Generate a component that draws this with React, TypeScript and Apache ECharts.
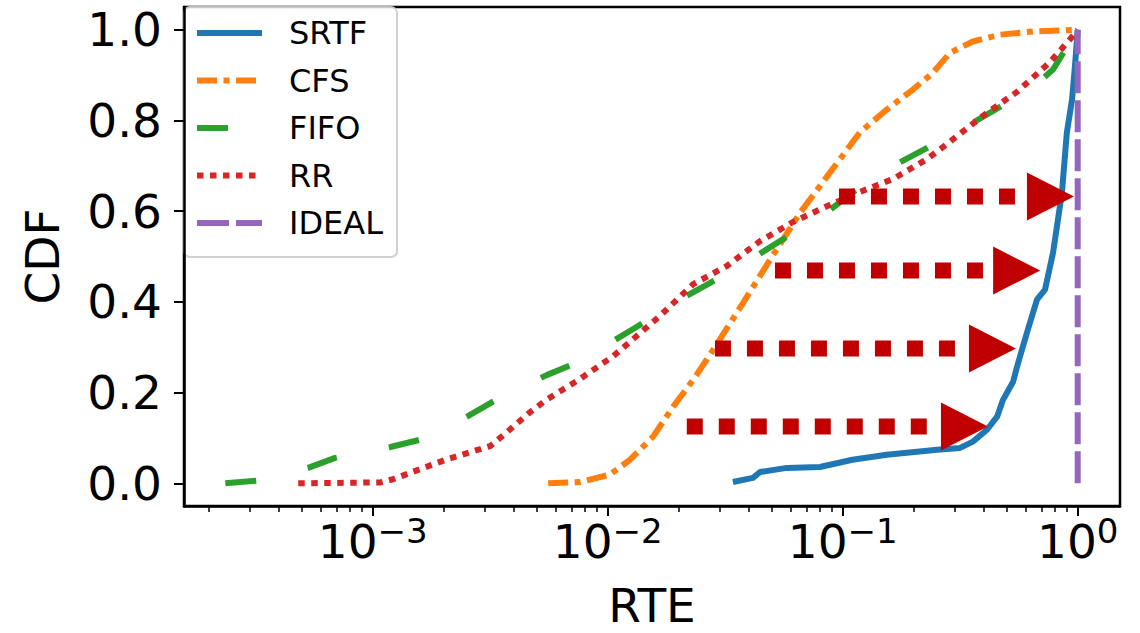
import React, { useEffect, useRef } from 'react';
import * as echarts from 'echarts';

// ---------- data (RTE values on a log axis, CDF values) ----------
const seriesNames = ['SRTF', 'CFS', 'FIFO', 'RR', 'IDEAL'];

const srtfRte = [0.0341, 0.0415, 0.0445, 0.0579, 0.08, 0.11, 0.154, 0.252, 0.316, 0.358, 0.411, 0.454, 0.481, 0.531, 0.552, 0.608, 0.671, 0.726, 0.785, 0.824, 0.857, 0.899, 0.946, 0.973, 1.0];
const srtfCdf = [0.003, 0.012, 0.025, 0.034, 0.036, 0.052, 0.063, 0.074, 0.078, 0.092, 0.118, 0.147, 0.184, 0.224, 0.257, 0.332, 0.405, 0.427, 0.508, 0.581, 0.641, 0.773, 0.846, 0.918, 1.0];

const cfsRte = [0.00558, 0.00764, 0.0102, 0.01245, 0.0156, 0.019, 0.0231, 0.0281, 0.0377, 0.0491, 0.0658, 0.0857, 0.118, 0.154, 0.199, 0.242, 0.286, 0.358, 0.467, 0.646, 1.0];
const cfsCdf = [0, 0.003, 0.019, 0.052, 0.103, 0.169, 0.228, 0.294, 0.398, 0.493, 0.596, 0.676, 0.773, 0.824, 0.868, 0.905, 0.949, 0.974, 0.989, 0.996, 1.0];

const fifoRte = [0.000236, 0.000325, 0.000531, 0.000692, 0.00119, 0.00159, 0.00252, 0.00325, 0.00552, 0.0074, 0.0131, 0.0203, 0.0273, 0.0356, 0.0597, 0.0778, 0.127, 0.167, 0.281, 0.358, 0.627, 0.785, 1.0];
const fifoCdf = [0, 0.006, 0.034, 0.056, 0.08, 0.096, 0.147, 0.18, 0.239, 0.266, 0.343, 0.405, 0.442, 0.475, 0.548, 0.581, 0.665, 0.702, 0.764, 0.795, 0.868, 0.912, 1.0];

const rrRte = [0.000482, 0.00108, 0.00122, 0.00159, 0.00207, 0.00316, 0.00373, 0.00468, 0.00552, 0.00762, 0.01054, 0.01667, 0.0231, 0.0321, 0.0445, 0.0614, 0.0857, 0.118, 0.164, 0.229, 0.286, 0.395, 0.552, 0.764, 0.957, 1.0];
const rrCdf = [0, 0.002, 0.009, 0.031, 0.053, 0.082, 0.113, 0.157, 0.185, 0.23, 0.28, 0.369, 0.439, 0.479, 0.534, 0.576, 0.611, 0.642, 0.671, 0.715, 0.753, 0.81, 0.863, 0.929, 0.987, 1.0];

const idealRte = [1.0, 1.0];
const idealCdf = [0, 1.0];

// arrows: start RTE, end (tip) RTE, CDF level
const arrowStart = [0.0964, 0.0515, 0.0286, 0.0217];
const arrowEnd = [0.964, 0.692, 0.546, 0.415];
const arrowCdf = [0.632, 0.469, 0.297, 0.125];

// ticks
const xTickExponents = [-3, -2, -1, 0];
const minorTickMultipliers = [2, 3, 4, 5, 6, 7, 8, 9];
const minorTickDecades = [-4, -3, -2, -1, 0];
const yTicks = [0, 0.2, 0.4, 0.6, 0.8, 1.0];

const X_MIN = -3.803; // log10 RTE
const X_MAX = 0.18;
const Y_MIN = -0.05;
const Y_MAX = 1.05;

const FONT = 'DejaVu Sans';
const colors: Record<string, string> = {
  SRTF: '#1f77b4',
  CFS: '#ff7f0e',
  FIFO: '#2ca02c',
  RR: '#d62728',
  IDEAL: '#9467bd',
};
const dashes: Record<string, any> = {
  SRTF: null,
  CFS: [20, 6.5, 6, 6.5],
  FIFO: [31, 53],
  RR: [6.5, 6.5],
  IDEAL: [32, 7],
};
const ARROW_COLOR = '#c00000';

const toPairs = (xs: number[], ys: number[]) => xs.map((x, i) => [Math.log10(x), ys[i]]);

export default function App() {
  const ref = useRef<HTMLDivElement>(null);

  useEffect(() => {
    if (!ref.current) return;
    const chart = echarts.init(ref.current, undefined, { renderer: 'svg' });

    const minorTicks: number[] = [];
    minorTickDecades.forEach((d) => {
      minorTickMultipliers.forEach((m) => {
        const v = Math.log10(m) + d;
        if (v > X_MIN && v < X_MAX) minorTicks.push(v);
      });
    });

    const dataMap: Record<string, number[][]> = {
      SRTF: toPairs(srtfRte, srtfCdf),
      CFS: toPairs(cfsRte, cfsCdf),
      FIFO: toPairs(fifoRte, fifoCdf),
      RR: toPairs(rrRte, rrCdf),
      IDEAL: toPairs(idealRte, idealCdf),
    };

    const lineSeries = seriesNames.map((name, i) => ({
      type: 'line',
      name,
      data: dataMap[name],
      symbol: 'none',
      showSymbol: false,
      smooth: false,
      z: 2 + i,
      itemStyle: { color: colors[name] },
      lineStyle: { color: colors[name], width: 6, type: dashes[name] || 'solid', cap: 'butt', join: 'round' },
    }));

    const arrowData = arrowCdf.map((y, i) => [Math.log10(arrowStart[i]), Math.log10(arrowEnd[i]), y]);

    // legend drawn as graphic elements (box, line samples, labels)
    const LEG_X = 184;
    const LEG_Y = 7;
    const LEG_ROW0 = 33;
    const LEG_ROW_STEP = 47.5;
    const legendChildren: any[] = [
      {
        type: 'rect',
        shape: { x: LEG_X, y: LEG_Y, width: 213, height: 250, r: 6 },
        style: { fill: 'rgba(255,255,255,0.8)', stroke: 'rgba(204,204,204,0.9)', lineWidth: 2 },
      },
    ];
    seriesNames.forEach((name, i) => {
      const cy = LEG_ROW0 + i * LEG_ROW_STEP;
      legendChildren.push({
        type: 'line',
        shape: { x1: LEG_X + 13, y1: cy, x2: LEG_X + 78, y2: cy },
        style: {
          stroke: colors[name],
          lineWidth: 6,
          lineDash: dashes[name] || null,
          lineCap: 'butt',
        },
      });
      legendChildren.push({
        type: 'text',
        x: LEG_X + 105,
        y: cy,
        style: {
          text: name,
          fontFamily: FONT,
          fontSize: 32,
          fill: '#000',
          verticalAlign: 'middle',
          align: 'left',
        },
      });
    });

    const option: any = {
      animation: false,
      backgroundColor: '#ffffff',
      grid: {
        left: 184,
        top: 7,
        width: 936,
        height: 499,
        show: true,
        borderColor: '#000',
        borderWidth: 2.5,
        backgroundColor: 'transparent',
        containLabel: false,
        outerBoundsMode: 'none',
      },
      graphic: [{ type: 'group', z: 100, children: legendChildren }],
      xAxis: [
        {
          type: 'value',
          min: X_MIN,
          max: X_MAX,
          position: 'bottom',
          name: 'RTE',
          nameLocation: 'middle',
          nameGap: 76,
          nameTextStyle: { fontFamily: FONT, fontSize: 47, color: '#000' },
          axisLine: { show: true, onZero: false, lineStyle: { color: '#000', width: 2.5 } },
          axisTick: { show: true, length: 10, lineStyle: { color: '#000', width: 2 }, customValues: xTickExponents },
          axisLabel: {
            show: true,
            customValues: xTickExponents,
            margin: 8,
            color: '#000',
            fontFamily: FONT,
            formatter: (v: number) => {
              const e = String(Math.round(v)).replace('-', '\u2212');
              return `{b|10}{s|${e}}`;
            },
            rich: {
              b: { fontFamily: FONT, fontSize: 47, color: '#000' },
              s: { fontFamily: FONT, fontSize: 34, color: '#000', padding: [0, 0, 20, 0] },
            },
          },
          splitLine: { show: false },
        },
        {
          type: 'value',
          min: X_MIN,
          max: X_MAX,
          position: 'bottom',
          axisLine: { show: false, onZero: false },
          axisTick: { show: true, length: 6, lineStyle: { color: '#000', width: 1.5 }, customValues: minorTicks },
          axisLabel: { show: false },
          splitLine: { show: false },
        },
      ],
      yAxis: {
        type: 'value',
        min: Y_MIN,
        max: Y_MAX,
        name: 'CDF',
        nameLocation: 'middle',
        nameGap: 118,
        nameRotate: 90,
        nameTextStyle: { fontFamily: FONT, fontSize: 47, color: '#000' },
        axisLine: { show: true, onZero: false, lineStyle: { color: '#000', width: 2.5 } },
        axisTick: { show: true, length: 10, lineStyle: { color: '#000', width: 2 }, customValues: yTicks },
        axisLabel: {
          show: true,
          customValues: yTicks,
          margin: 22,
          color: '#000',
          fontFamily: FONT,
          fontSize: 47,
          formatter: (v: number) => v.toFixed(1),
        },
        splitLine: { show: false },
      },
      series: [
        ...lineSeries,
        {
          type: 'custom',
          name: 'arrows',
          xAxisIndex: 0,
          yAxisIndex: 0,
          z: 20,
          silent: true,
          data: arrowData,
          encode: { x: [0, 1], y: 2 },
          renderItem: (_params: any, api: any) => {
            const s = api.coord([api.value(0), api.value(2)]);
            const e = api.coord([api.value(1), api.value(2)]);
            const headLen = 47;
            const half = 24;
            const base = e[0] - headLen;
            return {
              type: 'group',
              children: [
                {
                  type: 'line',
                  shape: { x1: s[0], y1: s[1], x2: base - 4, y2: e[1] },
                  style: { stroke: ARROW_COLOR, lineWidth: 16, lineDash: [16, 16], lineCap: 'butt' },
                },
                {
                  type: 'polygon',
                  shape: { points: [[base, e[1] - half], [base, e[1] + half], [e[0], e[1]]] },
                  style: { fill: ARROW_COLOR },
                },
              ],
            };
          },
        },
      ],
    };

    chart.setOption(option);
    return () => chart.dispose();
  }, []);

  return (
    <div
      ref={ref}
      style={{ position: 'fixed', left: 0, top: 0, width: 1140, height: 633, background: '#fff' }}
    />
  );
}
